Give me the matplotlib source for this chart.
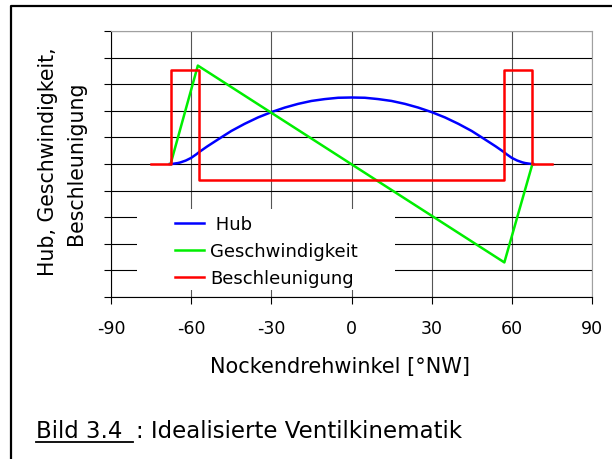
import matplotlib
matplotlib.use("Agg")
import matplotlib.pyplot as plt
from matplotlib.lines import Line2D
from matplotlib.patches import Rectangle

plt.rcParams['font.family'] = ['DejaVu Sans']
plt.rcParams['axes.unicode_minus'] = False

# Daten
hub_winkel = [-68, -67, -66, -65, -64, -63, -62, -61, -60, -59, -58, -57, -54, -50, -45,
              -40, -35, -30, -25, -20, -15, -10, -5, 0, 5, 10, 15, 20, 25, 30, 35, 40,
              45, 50, 54, 57, 58, 59, 60, 61, 62, 63, 64, 65, 66, 67, 68]
hub = [0.0, 0.005, 0.02, 0.035, 0.06, 0.095, 0.13, 0.18, 0.23, 0.30, 0.37, 0.45, 0.66,
       0.92, 1.24, 1.51, 1.75, 1.95, 2.12, 2.26, 2.37, 2.44, 2.49, 2.5, 2.49, 2.44,
       2.37, 2.26, 2.12, 1.95, 1.75, 1.51, 1.24, 0.92, 0.66, 0.45, 0.37, 0.30, 0.23,
       0.18, 0.13, 0.095, 0.06, 0.035, 0.02, 0.005, 0.0]

geschw_winkel = [-67.7, -57.5, 57.2, 67.7]
geschw = [0.0, 3.7, -3.7, 0.0]

beschl_winkel = [-75, -67.7, -67.7, -57.2, -57.2, 57.2, 57.2, 67.7, 67.7, 75]
beschl = [0, 0, 3.55, 3.55, -0.6, -0.6, 3.55, 3.55, 0, 0]

x_ticks = [-90, -60, -30, 0, 30, 60, 90]
y_ticks = [-5, -4, -3, -2, -1, 0, 1, 2, 3, 4, 5]

W, H = 612, 460
fig = plt.figure(figsize=(W / 100, H / 100), dpi=100)
ax = fig.add_axes([111 / W, 1 - 298 / H, (592 - 111) / W, (298 - 32) / H])

ax.plot(hub_winkel, hub, color='#0000ff', lw=1.8, label=' Hub', zorder=3)
ax.plot(geschw_winkel, geschw, color='#00ee00', lw=1.8, label='Geschwindigkeit', zorder=3)
ax.plot(beschl_winkel, beschl, color='#ff0000', lw=1.8, label='Beschleunigung', zorder=4)

ax.set_xlim(-90, 90)
ax.set_ylim(-5, 5)
ax.set_xticks(x_ticks)
ax.set_yticks(y_ticks)
ax.set_yticklabels([])
ax.tick_params(axis='both', direction='out', length=5, width=0.8, color='black',
               labelsize=12.5, pad=11)
ax.set_axisbelow(True)
ax.yaxis.grid(True, color='black', lw=0.8)
ax.xaxis.grid(True, color='#555555', lw=0.8)
for s in ['left', 'bottom']:
    ax.spines[s].set_color('black')
    ax.spines[s].set_linewidth(0.8)
for s in ['top', 'right']:
    ax.spines[s].set_color('#a0a0a0')
    ax.spines[s].set_linewidth(0.8)

# weisser Hintergrund der Legende
ax.add_patch(Rectangle((-80.3, -4.75), 96.6, 3.05, facecolor='white',
                       edgecolor='none', zorder=1))
ax.legend(loc='upper left', bbox_to_anchor=(174.5 / W, 1 - 216 / H),
          bbox_transform=fig.transFigure, frameon=False, fontsize=13,
          borderpad=0, borderaxespad=0, handlelength=1.63, handletextpad=0.33,
          labelspacing=0.5)

# Achsentitel
fig.text(340 / W, 1 - 373 / H, 'Nockendrehwinkel [°NW]', ha='center',
         va='baseline', fontsize=15)
fig.text(48.5 / W, 1 - 162 / H, 'Hub, Geschwindigkeit,', rotation=90,
         ha='center', va='center', fontsize=14.8)
fig.text(75.5 / W, 1 - 163.5 / H, 'Beschleunigung', rotation=90,
         ha='center', va='center', fontsize=14.8)

# Bildunterschrift
fig.text(36 / W, 1 - 438 / H, 'Bild 3.4 ', ha='left', va='baseline', fontsize=16.5)
fig.text(136 / W, 1 - 438 / H, ': Idealisierte Ventilkinematik', ha='left',
         va='baseline', fontsize=16.5)
fig.add_artist(Line2D([36 / W, 133 / W], [1 - 443 / H, 1 - 443 / H],
                      transform=fig.transFigure, color='black', lw=1.3))

# Rahmen
fig.add_artist(Line2D([11 / W, 11 / W, 1.0], [0.0, 1 - 7 / H, 1 - 7 / H],
                      transform=fig.transFigure, color='black', lw=1.6))

fig.savefig('out.png', dpi=100)
